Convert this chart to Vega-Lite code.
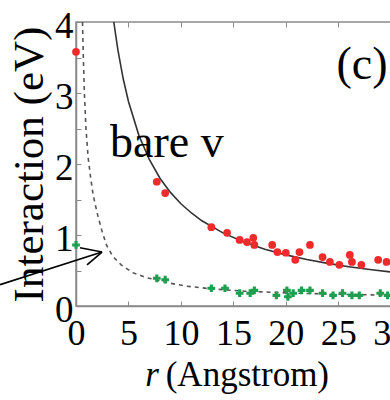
{
  "$schema": "https://vega.github.io/schema/vega-lite/v6.json",
  "autosize": "none",
  "padding": {"left": 76, "top": 22, "right": 0, "bottom": 94},
  "width": 320,
  "height": 284,
  "background": "white",
  "config": {
    "font": "Liberation Serif",
    "view": {"stroke": "#8a8a8a", "strokeWidth": 1.5},
    "axis": {"grid": false, "domainColor": "#8a8a8a", "domainWidth": 1.5, "tickColor": "#8a8a8a", "labelColor": "#000", "titleColor": "#000", "labelFont": "Liberation Serif", "titleFont": "Liberation Serif", "titleFontWeight": "normal"}
  },
  "datasets": {
    "solid": [
      {"r": 3.6, "v": 4.0}, {"r": 4, "v": 3.6}, {"r": 4.5, "v": 3.2}, {"r": 5, "v": 2.88}, {"r": 6, "v": 2.4},
      {"r": 7, "v": 2.06}, {"r": 8, "v": 1.8}, {"r": 9, "v": 1.6}, {"r": 10, "v": 1.44}, {"r": 11, "v": 1.31},
      {"r": 12, "v": 1.2}, {"r": 14, "v": 1.03}, {"r": 16, "v": 0.9}, {"r": 18, "v": 0.8}, {"r": 20, "v": 0.72},
      {"r": 22, "v": 0.655}, {"r": 24, "v": 0.6}, {"r": 26, "v": 0.554}, {"r": 28, "v": 0.514}, {"r": 30, "v": 0.48}, {"r": 30.5, "v": 0.472}
    ],
    "dashed": [
      {"r": 0.62, "v": 4.0}, {"r": 0.7, "v": 3.5}, {"r": 0.8, "v": 3.0}, {"r": 0.95, "v": 2.5}, {"r": 1.15, "v": 2.1},
      {"r": 1.4, "v": 1.8}, {"r": 1.6, "v": 1.6}, {"r": 1.8, "v": 1.45}, {"r": 2.1, "v": 1.26}, {"r": 2.45, "v": 1.07},
      {"r": 2.9, "v": 0.86}, {"r": 3.5, "v": 0.7}, {"r": 4.3, "v": 0.58}, {"r": 5.4, "v": 0.47}, {"r": 6.7, "v": 0.4},
      {"r": 9, "v": 0.32}, {"r": 10.5, "v": 0.28}, {"r": 13, "v": 0.24}, {"r": 16, "v": 0.21}, {"r": 20, "v": 0.185},
      {"r": 25, "v": 0.165}, {"r": 30.5, "v": 0.15}
    ],
    "red": [
      {"r": 0, "v": 3.58}, {"r": 7.7, "v": 1.75}, {"r": 8.5, "v": 1.59}, {"r": 12.9, "v": 1.11}, {"r": 14.4, "v": 1.03},
      {"r": 15.6, "v": 0.93}, {"r": 16.3, "v": 0.9}, {"r": 16.9, "v": 0.96}, {"r": 17.0, "v": 0.86}, {"r": 18.7, "v": 0.86},
      {"r": 19.2, "v": 0.76}, {"r": 20.0, "v": 0.75}, {"r": 20.9, "v": 0.65}, {"r": 21.3, "v": 0.76}, {"r": 22.3, "v": 0.86},
      {"r": 23.5, "v": 0.69}, {"r": 24.2, "v": 0.62}, {"r": 25.1, "v": 0.58}, {"r": 26.1, "v": 0.72}, {"r": 26.3, "v": 0.62},
      {"r": 27.2, "v": 0.58}, {"r": 28.8, "v": 0.65}, {"r": 29.6, "v": 0.62}
    ],
    "green": [
      {"r": 0, "v": 0.86}, {"r": 7.7, "v": 0.39}, {"r": 8.5, "v": 0.37}, {"r": 12.9, "v": 0.25}, {"r": 14.2, "v": 0.25},
      {"r": 15.6, "v": 0.18}, {"r": 16.6, "v": 0.18}, {"r": 17.0, "v": 0.22}, {"r": 19.1, "v": 0.15}, {"r": 20.1, "v": 0.22},
      {"r": 20.2, "v": 0.13}, {"r": 20.7, "v": 0.18}, {"r": 21.5, "v": 0.22}, {"r": 22.3, "v": 0.22}, {"r": 23.5, "v": 0.18},
      {"r": 24.5, "v": 0.15}, {"r": 25.4, "v": 0.18}, {"r": 26.3, "v": 0.15}, {"r": 27.0, "v": 0.15}, {"r": 29.0, "v": 0.18},
      {"r": 29.7, "v": 0.15}
    ],
    "arrow": [
      {"r": -7.24, "v": 0.3, "r2": 2.48, "v2": 0.76},
      {"r": 0.38, "v": 0.82, "r2": 2.48, "v2": 0.76},
      {"r": 1.05, "v": 0.58, "r2": 2.48, "v2": 0.76}
    ],
    "bare": [{"r": 3.24, "v": 2.1, "t": "bare v"}],
    "panel": [{"r": 29.7, "v": 3.2, "t": "(c)"}],
    "xtitle_r": [{"r": 6.6, "v": -1.12, "t": "r"}],
    "xtitle_rest": [{"r": 8.55, "v": -1.12, "t": "(Angstrom)"}]
  },
  "layer": [
    {
      "data": {"name": "solid"},
      "mark": {"type": "line", "color": "#333333", "strokeWidth": 1.6},
      "encoding": {
        "x": {"field": "r", "type": "quantitative", "scale": {"domain": [0, 30.5], "nice": false, "zero": false},
          "axis": {"orient": "bottom", "values": [0, 5, 10, 15, 20, 25, 30], "tickSize": -5, "labelFontSize": 36, "labelPadding": 15, "labelBaseline": "top", "title": null, "labelFlush": false, "labelOverlap": false}},
        "y": {"field": "v", "type": "quantitative", "scale": {"domain": [0, 4], "nice": false},
          "axis": {"values": [0, 0.5, 1, 1.5, 2, 2.5, 3, 3.5, 4], "labelExpr": "datum.value % 1 === 0 ? format(datum.value, 'd') : ''", "tickSize": -5, "labelFontSize": 37, "labelPadding": 8, "labelOffset": 4, "title": "Interaction (eV)", "titleFontSize": 43, "titlePadding": 3, "labelFlush": false, "labelOverlap": false}}
      }
    },
    {
      "data": {"name": "dashed"},
      "mark": {"type": "line", "color": "#555555", "strokeWidth": 1.6, "strokeDash": [4, 4]},
      "encoding": {
        "x": {"field": "r", "type": "quantitative", "axis": {"orient": "top", "values": [0, 5, 10, 15, 20, 25, 30], "labels": false, "title": null, "tickSize": -5, "domain": false}},
        "y": {"field": "v", "type": "quantitative", "axis": null}
      }
    },
    {
      "data": {"name": "red"},
      "mark": {"type": "point", "shape": "circle", "filled": true, "color": "#ee2a2a", "size": 60, "opacity": 1},
      "encoding": {
        "x": {"field": "r", "type": "quantitative", "axis": null},
        "y": {"field": "v", "type": "quantitative", "axis": null}
      }
    },
    {
      "data": {"name": "green"},
      "mark": {"type": "point", "shape": "cross", "filled": true, "color": "#1e9e4e", "size": 60, "opacity": 1},
      "encoding": {
        "x": {"field": "r", "type": "quantitative", "axis": null},
        "y": {"field": "v", "type": "quantitative", "axis": null}
      }
    },
    {
      "data": {"name": "arrow"},
      "mark": {"type": "rule", "color": "#000000", "strokeWidth": 1.6},
      "encoding": {
        "x": {"field": "r", "type": "quantitative", "axis": null},
        "y": {"field": "v", "type": "quantitative", "axis": null},
        "x2": {"field": "r2"},
        "y2": {"field": "v2"}
      }
    },
    {
      "data": {"name": "bare"},
      "mark": {"type": "text", "fontSize": 46, "color": "#000000", "baseline": "alphabetic", "align": "left"},
      "encoding": {
        "x": {"field": "r", "type": "quantitative", "axis": null},
        "y": {"field": "v", "type": "quantitative", "axis": null},
        "text": {"field": "t"}
      }
    },
    {
      "data": {"name": "panel"},
      "mark": {"type": "text", "fontSize": 46, "color": "#000000", "baseline": "alphabetic", "align": "right"},
      "encoding": {
        "x": {"field": "r", "type": "quantitative", "axis": null},
        "y": {"field": "v", "type": "quantitative", "axis": null},
        "text": {"field": "t"}
      }
    },
    {
      "data": {"name": "xtitle_r"},
      "mark": {"type": "text", "fontSize": 35, "fontStyle": "italic", "color": "#000000", "baseline": "alphabetic", "align": "left"},
      "encoding": {
        "x": {"field": "r", "type": "quantitative", "axis": null},
        "y": {"field": "v", "type": "quantitative", "axis": null},
        "text": {"field": "t"}
      }
    },
    {
      "data": {"name": "xtitle_rest"},
      "mark": {"type": "text", "fontSize": 35, "color": "#000000", "baseline": "alphabetic", "align": "left"},
      "encoding": {
        "x": {"field": "r", "type": "quantitative", "axis": null},
        "y": {"field": "v", "type": "quantitative", "axis": null},
        "text": {"field": "t"}
      }
    }
  ],
  "resolve": {"axis": {"x": "independent", "y": "independent"}}
}
